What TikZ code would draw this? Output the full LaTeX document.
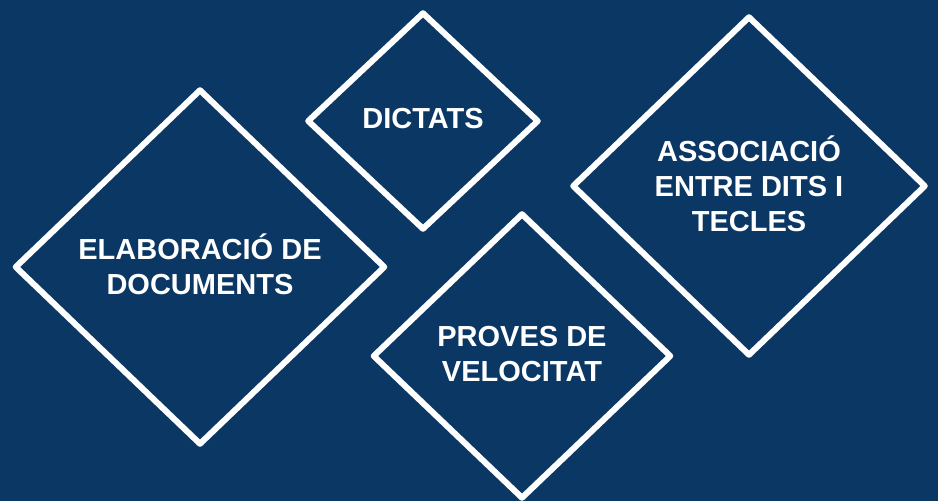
\documentclass[tikz,border=0pt]{standalone}
\usepackage{fontspec}
\setmainfont{Liberation Sans}
\usetikzlibrary{shapes.geometric}
\definecolor{fonsblau}{RGB}{10,55,100}
\tikzset{
  rombe/.style={diamond, draw=white, line width=6pt, line join=round,
    inner sep=0pt, align=center, text=white, text depth=5pt,
    font=\fontsize{29}{35}\selectfont\bfseries}
}
\begin{document}
\begin{tikzpicture}[x=1pt,y=-1pt]
    \fill[fonsblau] (0,0) rectangle (938,501);
    \useasboundingbox (0,0) rectangle (938,501);
    % els quatre rombes
    \node[rombe, minimum width=371pt, minimum height=356pt] (elaboracio) at (200,267)
      {ELABORACIÓ DE\\DOCUMENTS};
    \node[rombe, minimum width=232pt, minimum height=218pt] (dictats) at (423,121)
      {DICTATS};
    \node[rombe, minimum width=354pt, minimum height=340pt] (associacio) at (749,186)
      {ASSOCIACIÓ\\ENTRE DITS I\\TECLES};
    \node[rombe, minimum width=299pt, minimum height=286pt] (proves) at (522,356)
      {PROVES DE\\VELOCITAT};
\end{tikzpicture}
\end{document}
